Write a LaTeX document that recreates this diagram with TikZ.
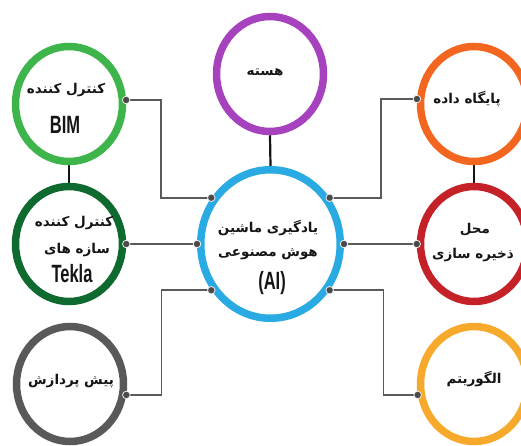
\documentclass[tikz,border=0pt]{standalone}
\usepackage{fontspec}
\newfontfamily\fafont[Script=Arabic]{DejaVu Sans}
\newfontfamily\enfont[FakeStretch=0.66]{Liberation Sans}
\TeXXeTstate=1
\usetikzlibrary{shapes.geometric}
\usetikzlibrary{backgrounds}

\definecolor{ink}{HTML}{151515}
\definecolor{wiregray}{HTML}{5A5A5A}
\definecolor{dotgray}{HTML}{4A4A4A}
\definecolor{ringpurple}{HTML}{A742BF}
\definecolor{ringgreen}{HTML}{3DB54A}
\definecolor{ringdkgreen}{HTML}{0F6A30}
\definecolor{ringgray}{HTML}{595959}
\definecolor{ringblue}{HTML}{2AAAE2}
\definecolor{ringorange}{HTML}{F2661F}
\definecolor{ringred}{HTML}{C42129}
\definecolor{ringyellow}{HTML}{F6A92A}

\newcommand\fa[1]{{\fafont\bfseries\beginR #1\endR}}
\newcommand\en[1]{{\enfont\bfseries\fontsize{25}{28}\selectfont #1}}

\begin{document}
\begin{tikzpicture}[x=1pt,y=-1pt,
    ring/.style={ellipse,draw=#1,fill=white,line width=7.5pt,minimum width=107pt,minimum height=115pt,inner sep=0pt},
    txt/.style={inner sep=0pt,text=ink,font=\fontsize{13.5}{16}\selectfont},
    wire/.style={draw=wiregray,line width=1.5pt},
    stem/.style={draw=ink,line width=2.2pt},
    dot/.style={circle,fill=dotgray,draw=white!85!gray,line width=0.8pt,inner sep=0pt,minimum size=7.5pt}]

                \useasboundingbox (0,0) rectangle (521,446);

                \node[ring=ringpurple] (core) at (270,74) {};
                \node[ring=ringgreen] (bim) at (69,104) {};
                \node[ring=ringdkgreen] (tekla) at (69,244) {};
                \node[ring=ringgray] (prep) at (70,384) {};
                \node[ring=ringblue,minimum width=139.5pt,minimum height=148.5pt] (ai) at (270.5,244) {};
                \node[ring=ringorange] (db) at (474,104) {};
                \node[ring=ringred] (store) at (474,244) {};
                \node[ring=ringyellow] (algo) at (474,384) {};

                \begin{pgfonlayer}{background}
                \draw[stem] (core.south) -- (ai.north);
                \draw[stem] (bim.south) -- (tekla.north);
                \draw[stem] (db.south) -- (store.north);

                \draw[wire] (bim.4) -- ++(35,0) |- (ai.142);
                \draw[wire] (tekla.east) -- (ai.west);
                \draw[wire] (prep.-11) -- ++(35,0) |- (ai.218);
                \draw[wire] (db.175) -- ++(-36,0) |- (ai.38);
                \draw[wire] (store.west) -- (ai.east);
                \draw[wire] (algo.191) -- ++(-34,0) |- (ai.-38);
                \end{pgfonlayer}

                \node[dot] (d1) at (bim.4) {};
                \node[dot] (d2) at (ai.142) {};
                \node[dot] (d3) at (tekla.east) {};
                \node[dot] (d4) at (ai.west) {};
                \node[dot] (d5) at (prep.-11) {};
                \node[dot] (d6) at (ai.218) {};
                \node[dot] (d7) at (db.175) {};
                \node[dot] (d8) at (ai.38) {};
                \node[dot] (d9) at (store.west) {};
                \node[dot] (d10) at (ai.east) {};
                \node[dot] (d11) at (algo.191) {};
                \node[dot] (d12) at (ai.-38) {};

                \node[txt] (coretxt) at (265,72) {\fa{هسته}};
                \node[txt] (bimtxt) at (66,90) {\fa{کنترل کننده}};
                \node[txt] (bimname) at (65,125) {\en{BIM}};
                \node[txt] (teklatxt) at (74,223) {\fa{کنترل کننده}};
                \node[txt] (teklatxt2) at (77,250) {\fa{سازه های}};
                \node[txt] (teklaname) at (72,274) {\en{Tekla}};
                \node[txt] (preptxt) at (71,381) {\fa{پیش پردازش}};
                \node[txt] (aitxt) at (268,228) {\fa{یادگیری ماشین}};
                \node[txt] (aitxt2) at (268,254) {\fa{هوش مصنوعی}};
                \node[txt] (ainame) at (272,283) {\en{(AI)}};
                \node[txt] (dbtxt) at (467,99) {\fa{پایگاه داده}};
                \node[txt] (storetxt) at (475,230) {\fa{محل}};
                \node[txt] (storetxt2) at (473,255) {\fa{ذخیره سازی}};
                \node[txt] (algotxt) at (474,379) {\fa{الگوریتم}};
            \end{tikzpicture}
\end{document}
